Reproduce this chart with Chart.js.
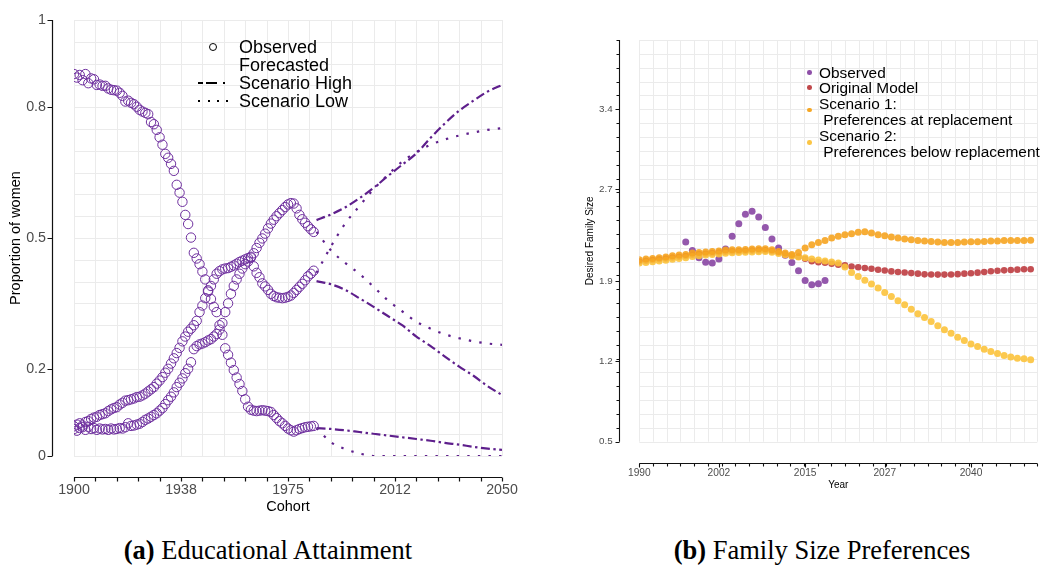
<!DOCTYPE html>
<html>
<head>
<meta charset="utf-8">
<script src="https://cdn.jsdelivr.net/npm/chart.js@4.4.1/dist/chart.umd.min.js"></script>
<style>
  html, body { margin: 0; padding: 0; background: #fff; }
  body { width: 1045px; height: 565px; position: relative; overflow: hidden; font-family: "Liberation Sans", Arial, sans-serif; }
  #ca { position: absolute; left: 0; top: 0; }
  #cb { position: absolute; left: 560px; top: 0; }
  .t { position: absolute; white-space: pre; color: #000; }
  .la { font-size: 18px; line-height: 18px; height: 18px; }
  .lb { font-size: 15.4px; line-height: 16px; height: 16px; }
  .sym { position: absolute; background: #000; }
  .cap { position: absolute; top: 538px; font-family: "Liberation Serif", "Times New Roman", serif; font-size: 26.5px; line-height: 25px; white-space: nowrap; transform: translateX(-50%); color: #000; }
</style>
</head>
<body>
<canvas id="ca" width="520" height="520"></canvas>
<canvas id="cb" width="485" height="520"></canvas>

<!-- legend (a) -->
<div class="sym" style="left:209px;top:42.7px;width:6px;height:6px;border:1px solid #000;border-radius:50%;background:transparent;"></div>
<div class="t la" style="left:239px;top:37.7px;">Observed</div>
<div class="t la" style="left:239px;top:55.7px;">Forecasted</div>
<div class="sym" style="left:198.3px;top:81.7px;width:4.4px;height:2px;"></div>
<div class="sym" style="left:206px;top:81.7px;width:10.7px;height:2px;"></div>
<div class="sym" style="left:223.3px;top:81.7px;width:2px;height:2px;"></div>
<div class="t la" style="left:239px;top:73.7px;">Scenario High</div>
<div class="sym" style="left:198.3px;top:99.7px;width:2px;height:2px;"></div>
<div class="sym" style="left:208px;top:99.7px;width:2px;height:2px;"></div>
<div class="sym" style="left:217.3px;top:99.7px;width:2px;height:2px;"></div>
<div class="sym" style="left:226.3px;top:99.7px;width:2px;height:2px;"></div>
<div class="t la" style="left:239px;top:91.7px;">Scenario Low</div>

<!-- legend (b) -->
<div class="sym" style="left:807px;top:70.4px;width:4.6px;height:4.6px;border-radius:50%;background:#8E4FA8;"></div>
<div class="t lb" style="left:819px;top:64.8px;">Observed</div>
<div class="sym" style="left:807px;top:85px;width:4.6px;height:4.6px;border-radius:50%;background:#C0474A;"></div>
<div class="t lb" style="left:819px;top:80px;">Original Model</div>
<div class="sym" style="left:807px;top:107.7px;width:4.6px;height:4.6px;border-radius:50%;background:#F5A623;"></div>
<div class="t lb" style="left:819px;top:95.8px;">Scenario 1:</div>
<div class="t lb" style="left:819px;top:112px;"> Preferences at replacement</div>
<div class="sym" style="left:807px;top:140px;width:4.6px;height:4.6px;border-radius:50%;background:#FBC544;"></div>
<div class="t lb" style="left:819px;top:127.5px;">Scenario 2:</div>
<div class="t lb" style="left:819px;top:144px;"> Preferences below replacement</div>

<div class="cap" style="left:268px;"><b>(a)</b> Educational Attainment</div>
<div class="cap" style="left:822px;"><b>(b)</b> Family Size Preferences</div>

<script>
// ---------------- Panel (a): Educational attainment ----------------
const cohortYears = [1900,1901,1902,1903,1904,1905,1906,1907,1908,1909,
  1910,1911,1912,1913,1914,1915,1916,1917,1918,1919,
  1920,1921,1922,1923,1924,1925,1926,1927,1928,1929,
  1930,1931,1932,1933,1934,1935,1936,1937,1938,1939,
  1940,1941,1942,1943,1944,1945,1946,1947,1948,1949,
  1950,1951,1952,1953,1954,1955,1956,1957,1958,1959,
  1960,1961,1962,1963,1964,1965,1966,1967,1968,1969,
  1970,1971,1972,1973,1974,1975,1976,1977,1978,1979,
  1980,1981,1982,1983,1984];

const observedLow = [0.876,0.868,0.874,0.862,0.876,0.855,0.866,0.864,0.851,0.852,
  0.849,0.849,0.843,0.840,0.839,0.838,0.833,0.826,0.813,0.815,
  0.810,0.807,0.801,0.794,0.790,0.787,0.784,0.766,0.761,0.748,
  0.731,0.714,0.693,0.684,0.670,0.654,0.622,0.604,0.583,0.553,
  0.532,0.501,0.466,0.453,0.440,0.423,0.405,0.380,0.360,0.342,
  0.330,0.300,0.278,0.247,0.232,0.214,0.197,0.180,0.165,0.149,
  0.130,0.113,0.106,0.104,0.103,0.104,0.105,0.104,0.103,0.101,
  0.094,0.087,0.080,0.075,0.069,0.063,0.059,0.056,0.059,0.062,
  0.064,0.066,0.067,0.068,0.069];

const observedMid = [0.068,0.072,0.075,0.070,0.078,0.080,0.085,0.088,0.090,0.094,
  0.096,0.098,0.103,0.107,0.110,0.112,0.118,0.122,0.127,0.128,
  0.130,0.132,0.135,0.136,0.139,0.143,0.148,0.153,0.158,0.166,
  0.173,0.181,0.191,0.200,0.212,0.224,0.236,0.248,0.263,0.274,
  0.285,0.292,0.300,0.310,0.330,0.345,0.362,0.377,0.390,0.405,
  0.418,0.424,0.428,0.430,0.431,0.434,0.437,0.441,0.445,0.448,
  0.451,0.454,0.457,0.435,0.420,0.410,0.396,0.389,0.381,0.372,
  0.367,0.364,0.363,0.362,0.363,0.365,0.368,0.374,0.381,0.388,
  0.395,0.403,0.412,0.418,0.425];

const observedHigh = [0.062,0.058,0.064,0.066,0.060,0.067,0.062,0.064,0.060,0.063,
  0.061,0.062,0.060,0.063,0.061,0.062,0.064,0.063,0.066,0.075,
  0.069,0.070,0.072,0.074,0.078,0.083,0.086,0.090,0.094,0.098,
  0.104,0.110,0.119,0.128,0.136,0.146,0.158,0.168,0.178,0.190,
  0.200,0.215,0.245,0.252,0.256,0.258,0.261,0.265,0.268,0.274,
  0.280,0.290,0.305,0.330,0.350,0.372,0.390,0.405,0.418,0.430,
  0.440,0.446,0.455,0.465,0.477,0.489,0.499,0.510,0.522,0.533,
  0.542,0.550,0.557,0.564,0.571,0.577,0.580,0.579,0.568,0.553,
  0.543,0.535,0.527,0.520,0.514];

const forecastYears = [1985,1990,1995,2000,2005,2010,2015,2020,2025,2030,2035,2040,2045,2050];
const highScenHigh = [0.541,0.554,0.570,0.591,0.615,0.642,0.668,0.694,0.730,0.763,0.792,0.815,0.836,0.851];
const lowScenHigh  = [0.514,0.472,0.443,0.418,0.388,0.357,0.332,0.308,0.292,0.279,0.270,0.263,0.258,0.255];
const highScenMid  = [0.401,0.394,0.381,0.362,0.342,0.321,0.300,0.274,0.252,0.228,0.205,0.184,0.160,0.140];
const lowScenMid   = [0.420,0.480,0.533,0.573,0.612,0.645,0.675,0.697,0.714,0.726,0.735,0.742,0.748,0.752];
const highScenLow  = [0.064,0.062,0.059,0.055,0.051,0.047,0.043,0.039,0.035,0.030,0.026,0.021,0.017,0.014];
const lowScenLow   = [0.064,0.032,0.016,0.006,0.000,0.000,0.000,0.000,0.000,0.000,0.000,0.000,0.000,0.000];

const cohortTickValues = [1900, 1937.5, 1975, 2012.5, 2050];
const cohortTickLabels = ['1900', '1938', '1975', '2012', '2050'];
const propTickValues = [0, 0.2, 0.5, 0.8, 1];
const propTickLabels = ['0', '0.2', '0.5', '0.8', '1'];

// ---------------- Panel (b): Family size preferences ----------------
const modelYears = [1990,1991,1992,1993,1994,1995,1996,1997,1998,1999,
  2000,2001,2002,2003,2004,2005,2006,2007,2008,2009,
  2010,2011,2012,2013,2014,2015,2016,2017,2018,2019,
  2020,2021,2022,2023,2024,2025,2026,2027,2028,2029,
  2030,2031,2032,2033,2034,2035,2036,2037,2038,2039,
  2040,2041,2042,2043,2044,2045,2046,2047,2048,2049];

const originalModel = [2.070,2.077,2.083,2.090,2.096,2.105,2.112,2.118,2.128,2.134,
  2.138,2.143,2.147,2.155,2.158,2.160,2.162,2.165,2.167,2.167,
  2.160,2.148,2.130,2.120,2.112,2.094,2.072,2.063,2.060,2.051,
  2.042,2.036,2.027,2.020,2.013,2.007,1.998,1.992,1.984,1.979,
  1.974,1.969,1.964,1.958,1.957,1.956,1.956,1.957,1.960,1.964,
  1.968,1.973,1.979,1.985,1.990,1.993,1.996,1.999,2.002,2.003];

const scenario1 = [2.085,2.091,2.097,2.103,2.109,2.120,2.126,2.132,2.144,2.149,
  2.152,2.158,2.161,2.170,2.173,2.173,2.175,2.179,2.181,2.181,
  2.173,2.158,2.144,2.130,2.149,2.188,2.216,2.236,2.254,2.275,
  2.289,2.304,2.312,2.324,2.330,2.318,2.304,2.295,2.284,2.275,
  2.266,2.260,2.254,2.249,2.245,2.240,2.236,2.236,2.236,2.240,
  2.243,2.243,2.245,2.249,2.249,2.252,2.252,2.254,2.254,2.256];

const scenario2 = [2.056,2.062,2.068,2.074,2.080,2.090,2.096,2.102,2.113,2.120,
  2.126,2.131,2.135,2.142,2.146,2.148,2.150,2.153,2.156,2.157,
  2.150,2.140,2.128,2.118,2.110,2.102,2.092,2.083,2.075,2.066,
  2.057,2.022,1.975,1.940,1.907,1.873,1.839,1.800,1.765,1.728,
  1.693,1.655,1.614,1.582,1.547,1.510,1.475,1.446,1.411,1.381,
  1.352,1.329,1.306,1.285,1.268,1.250,1.239,1.228,1.222,1.213];

const observedYears = [1997,1998,1999,2000,2001,2002,2003,2004,2005,2006,2007,
  2008,2009,2010,2011,2012,2013,2014,2015,2016,2017,2018];
const observedSize = [2.240,2.167,2.103,2.063,2.057,2.092,2.179,2.289,2.400,2.482,2.507,
  2.458,2.367,2.266,2.188,2.125,2.062,1.990,1.905,1.867,1.876,1.905];

const yearTickValues = [1990, 2002, 2015, 2027, 2040];
const yearTickLabels = ['1990', '2002', '2015', '2027', '2040'];
const sizeTickValues = [0.5, 1.2, 1.9, 2.7, 3.4];
const sizeTickLabels = ['0.5', '1.2', '1.9', '2.7', '3.4'];

// ---------------- helpers ----------------
const pts = (xs, ys) => xs.map((x, i) => ({x: x, y: ys[i]}));

Chart.defaults.font.family = "'Liberation Sans', Arial, sans-serif";

const axisDecor = {
  id: 'axisDecor',
  beforeDatasetsDraw(chart, args, o) {
    const {ctx, chartArea: ca} = chart;
    const xs = chart.scales.x, ys = chart.scales.y;
    ctx.save();
    ctx.lineWidth = 1;
    ctx.strokeStyle = o.gridColor;
    ctx.beginPath();
    for (let i = 0; i <= o.gridX; i++) {
      const px = Math.round(xs.getPixelForValue(xs.min + (xs.max - xs.min) * i / o.gridX)) + 0.5;
      ctx.moveTo(px, ca.top); ctx.lineTo(px, ca.bottom);
    }
    for (let j = 0; j <= o.gridY; j++) {
      const py = Math.round(ys.getPixelForValue(ys.min + (ys.max - ys.min) * j / o.gridY)) + 0.5;
      ctx.moveTo(ca.left, py); ctx.lineTo(ca.right, py);
    }
    ctx.stroke();

    ctx.strokeStyle = o.axisColor;
    ctx.lineWidth = o.axisWidth;
    ctx.lineCap = 'butt';
    const ax = Math.round(ca.left - o.yGap) + 0.5;
    const ay = Math.round(ca.bottom + o.xGap) + 0.5;
    ctx.beginPath();
    ctx.moveTo(ax, ys.getPixelForValue(ys.max)); ctx.lineTo(ax, ys.getPixelForValue(ys.min));
    ctx.moveTo(xs.getPixelForValue(xs.min), ay); ctx.lineTo(xs.getPixelForValue(xs.max), ay);
    if (o.xMinor > 0) {
      for (let i = 0; i <= o.gridX; i++) {
        const px = Math.round(xs.getPixelForValue(xs.min + (xs.max - xs.min) * i / o.gridX)) + 0.5;
        ctx.moveTo(px, ay); ctx.lineTo(px, ay + o.xMinor);
      }
    }
    if (o.yMinor > 0) {
      for (let j = 0; j <= o.gridY; j++) {
        const py = Math.round(ys.getPixelForValue(ys.min + (ys.max - ys.min) * j / o.gridY)) + 0.5;
        ctx.moveTo(ax, py); ctx.lineTo(ax - o.yMinor, py);
      }
    }
    xs.ticks.forEach(t => {
      const px = Math.round(xs.getPixelForValue(t.value)) + 0.5;
      ctx.moveTo(px, ay); ctx.lineTo(px, ay + o.xMajor);
    });
    ys.ticks.forEach(t => {
      const py = Math.round(ys.getPixelForValue(t.value)) + 0.5;
      ctx.moveTo(ax, py); ctx.lineTo(ax - o.yMajor, py);
    });
    ctx.stroke();
    ctx.restore();
  }
};

function fixedTicks(values) {
  return (scale) => { scale.ticks = values.map(v => ({value: v})); };
}

// ---------------- Chart (a) ----------------
const purpleCircle = '#6E2F9E';
const purpleLine = '#5E1F8C';
const dashDot = [9, 3.5, 2.4, 3.5];
const dotted = [2.4, 8.2];

function obsSet(vals) {
  return {
    data: pts(cohortYears, vals), showLine: false,
    pointStyle: 'circle', pointRadius: 4.7, pointBorderWidth: 1,
    pointBorderColor: purpleCircle, pointBackgroundColor: 'rgba(0,0,0,0)', borderColor: purpleCircle
  };
}
function fcSet(vals, dash) {
  return {
    data: pts(forecastYears, vals), borderColor: purpleLine, borderWidth: 2.2,
    borderDash: dash, borderCapStyle: 'butt', pointRadius: 0, fill: false,
    cubicInterpolationMode: 'monotone'
  };
}

new Chart(document.getElementById('ca'), {
  type: 'line',
  data: {
    datasets: [
      obsSet(observedLow), obsSet(observedMid), obsSet(observedHigh),
      fcSet(highScenHigh, dashDot), fcSet(lowScenHigh, dotted),
      fcSet(highScenMid, dashDot), fcSet(lowScenMid, dotted),
      fcSet(highScenLow, dashDot), fcSet(lowScenLow, dotted)
    ]
  },
  options: {
    responsive: false, animation: false, devicePixelRatio: 1,
    layout: { padding: { left: 0, top: 20, right: 18, bottom: 0 } },
    plugins: {
      legend: { display: false }, tooltip: { enabled: false },
      axisDecor: { gridColor: '#ebebeb', axisColor: '#111', axisWidth: 1.2, gridX: 20, gridY: 20,
                   yGap: 22, xGap: 21, xMinor: 4, xMajor: 4, yMinor: 0, yMajor: 5 }
    },
    scales: {
      x: {
        type: 'linear', min: 1900, max: 2050,
        grid: { display: false, drawTicks: false }, border: { display: false },
        afterBuildTicks: fixedTicks(cohortTickValues),
        afterFit: (s) => { s.height = 64; s.paddingLeft = 0; s.paddingRight = 0; },
        ticks: { autoSkip: false, maxRotation: 0, padding: 25.6, color: '#4d4d4d', font: { size: 14.2 },
                 callback: (v, i) => cohortTickLabels[i] },
        title: { display: true, text: 'Cohort', color: '#000', font: { size: 14.5 }, padding: { top: 0, bottom: 4.3 } }
      },
      y: {
        type: 'linear', min: 0, max: 1,
        grid: { display: false, drawTicks: false }, border: { display: false },
        afterBuildTicks: fixedTicks(propTickValues),
        afterFit: (s) => { s.width = 74; s.paddingTop = 0; s.paddingBottom = 0; },
        ticks: { autoSkip: false, padding: 28, color: '#4d4d4d', font: { size: 14.3 },
                 callback: (v, i) => propTickLabels[i] },
        title: { display: true, text: 'Proportion of women', color: '#000', font: { size: 14.5 }, padding: { top: 7.3, bottom: 0 } }
      }
    }
  },
  plugins: [axisDecor]
});

// ---------------- Chart (b) ----------------
function dotSet(xs, vals, color, order, r) {
  return {
    data: pts(xs, vals), showLine: false, order: order,
    pointStyle: 'circle', pointRadius: r, pointBorderWidth: 0,
    pointBackgroundColor: color, backgroundColor: color, borderColor: color
  };
}

new Chart(document.getElementById('cb'), {
  type: 'line',
  data: {
    datasets: [
      dotSet(observedYears, observedSize, 'rgba(142,79,168,0.95)', 4, 3.5),
      dotSet(modelYears, originalModel, 'rgba(190,60,64,0.9)', 3, 3.3),
      dotSet(modelYears, scenario2, 'rgba(252,195,60,0.9)', 2, 3.5),
      dotSet(modelYears, scenario1, 'rgba(246,164,32,0.9)', 1, 3.5)
    ]
  },
  options: {
    responsive: false, animation: false, devicePixelRatio: 1,
    layout: { padding: { left: 0, top: 40, right: 7.7, bottom: 0 } },
    plugins: {
      legend: { display: false }, tooltip: { enabled: false },
      axisDecor: { gridColor: '#ebebeb', axisColor: '#111', axisWidth: 1.1, gridX: 29, gridY: 29,
                   yGap: 20.3, xGap: 21.3, xMinor: 3, xMajor: 4, yMinor: 3, yMajor: 4 }
    },
    scales: {
      x: {
        type: 'linear', min: 1990, max: 2050,
        grid: { display: false, drawTicks: false }, border: { display: false },
        afterBuildTicks: fixedTicks(yearTickValues),
        afterFit: (s) => { s.height = 78.3; s.paddingLeft = 0; s.paddingRight = 0; },
        ticks: { autoSkip: false, maxRotation: 0, padding: 25.6, color: '#4d4d4d', font: { size: 10.2 },
                 callback: (v, i) => yearTickLabels[i] },
        title: { display: true, text: 'Year', color: '#000', font: { size: 10 }, padding: { top: 0, bottom: 29 } }
      },
      y: {
        type: 'linear', min: 0.5, max: 4.0,
        grid: { display: false, drawTicks: false }, border: { display: false },
        afterBuildTicks: fixedTicks(sizeTickValues),
        afterFit: (s) => { s.width = 79.3; s.paddingTop = 0; s.paddingBottom = 0; },
        ticks: { autoSkip: false, padding: 26.6, color: '#4d4d4d', font: { size: 9.8 },
                 callback: (v, i) => sizeTickLabels[i] },
        title: { display: true, text: 'Desired Family Size', color: '#000', font: { size: 10 }, padding: { top: 24.5, bottom: 0 } }
      }
    }
  },
  plugins: [axisDecor]
});
</script>
</body>
</html>
